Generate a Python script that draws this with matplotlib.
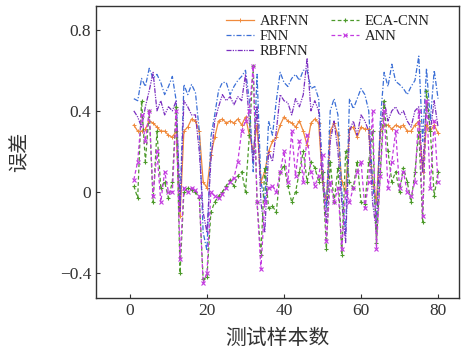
import matplotlib
matplotlib.use("Agg")
import matplotlib.pyplot as plt
import numpy as np

samples = list(range(1, 81))

arfnn = [0.33, 0.30, 0.30, 0.31, 0.35, 0.34, 0.32, 0.30, 0.30, 0.28,
         0.27, 0.30, -0.12, 0.30, 0.32, 0.36, 0.35, 0.30, 0.05, 0.02,
         0.18, 0.27, 0.35, 0.36, 0.34, 0.35, 0.34, 0.36, 0.33, 0.37,
         0.28, 0.20, 0.33, 0.05, 0.10, 0.20, 0.25, 0.27, 0.33, 0.37,
         0.35, 0.34, 0.32, 0.35, 0.30, 0.23, 0.34, 0.36, 0.34, 0.05,
         -0.05, 0.30, 0.34, 0.28, 0.05, 0.00, 0.31, 0.32, 0.27, 0.32,
         0.31, 0.31, 0.05, -0.05, 0.30, 0.33, 0.33, 0.31, 0.33, 0.32,
         0.33, 0.30, 0.30, 0.33, 0.35, 0.10, 0.33, 0.30, 0.33, 0.29]

fnn = [0.46, 0.45, 0.56, 0.52, 0.61, 0.56, 0.58, 0.54, 0.48, 0.52,
       0.57, 0.45, -0.05, 0.53, 0.48, 0.53, 0.49, 0.30, -0.20, -0.29,
       0.27, 0.38, 0.50, 0.54, 0.54, 0.48, 0.52, 0.55, 0.57, 0.60,
       0.45, 0.10, 0.58, 0.05, -0.05, 0.35, 0.28, 0.45, 0.59, 0.54,
       0.52, 0.56, 0.58, 0.55, 0.60, 0.60, 0.51, 0.52, 0.46, 0.10,
       -0.08, 0.40, 0.46, 0.38, 0.00, -0.20, 0.46, 0.41, 0.46, 0.51,
       0.48, 0.40, 0.05, -0.15, 0.35, 0.59, 0.52, 0.63, 0.545, 0.53,
       0.51, 0.48, 0.52, 0.55, 0.67, 0.25, 0.61, 0.35, 0.60, 0.46]

rbfnn = [0.40, 0.37, 0.32, 0.42, 0.50, 0.59, 0.40, 0.45, 0.38, 0.42,
         0.40, 0.45, -0.10, 0.45, 0.42, 0.38, 0.38, 0.20, -0.10, -0.20,
         0.15, 0.35, 0.42, 0.48, 0.45, 0.47, 0.43, 0.47, 0.45, 0.58,
         0.35, 0.15, 0.42, -0.05, -0.20, 0.20, 0.15, 0.30, 0.48, 0.45,
         0.44, 0.38, 0.46, 0.42, 0.48, 0.66, 0.40, 0.45, 0.40, 0.05,
         -0.15, 0.25, 0.35, 0.20, -0.05, -0.25, 0.30, 0.35, 0.28, 0.38,
         0.35, 0.30, -0.05, -0.20, 0.30, 0.45, 0.35, 0.40, 0.42, 0.38,
         0.40, 0.35, 0.32, 0.40, 0.42, 0.10, 0.45, 0.30, 0.45, 0.32]

eca_cnn = [0.03, -0.03, 0.45, 0.15, 0.40, -0.05, 0.30, 0.02, 0.05, -0.03,
           0.05, 0.42, -0.40, 0.00, 0.02, 0.01, 0.00, -0.03, -0.43, -0.42,
           -0.10, -0.05, -0.02, 0.00, 0.03, 0.06, 0.03, 0.08, 0.10, 0.00,
           0.28, 0.62, -0.05, -0.31, 0.12, -0.08, -0.07, -0.10, 0.10, 0.13,
           0.03, -0.05, 0.00, 0.10, 0.20, 0.05, 0.15, 0.12, 0.05, 0.10,
           -0.28, 0.15, -0.05, 0.12, -0.31, 0.20, 0.05, 0.02, 0.15, -0.05,
           -0.06, 0.15, 0.30, -0.25, 0.10, 0.45, 0.20, 0.05, 0.10, 0.00,
           0.12, 0.05, -0.05, 0.10, 0.30, -0.15, 0.50, 0.30, -0.02, 0.10]

ann = [0.06, 0.15, 0.38, 0.25, 0.40, -0.02, 0.20, -0.05, 0.10, 0.00,
       0.00, 0.40, -0.33, 0.02, 0.00, 0.02, 0.01, -0.02, -0.45, -0.40,
       0.00, -0.02, -0.03, -0.01, 0.02, 0.05, 0.07, 0.15, 0.30, 0.35,
       0.40, 0.62, -0.05, -0.38, -0.05, 0.02, 0.03, 0.00, 0.10, 0.20,
       0.05, 0.30, 0.08, 0.25, 0.05, 0.28, 0.10, 0.03, 0.08, 0.18,
       -0.24, 0.05, -0.05, 0.02, -0.28, 0.00, -0.05, 0.02, 0.10, 0.15,
       -0.08, 0.05, 0.40, -0.28, 0.08, 0.40, 0.02, 0.15, 0.30, 0.02,
       0.10, 0.00, -0.02, 0.05, 0.40, -0.12, 0.45, 0.02, 0.35, 0.05]

xticks = [0, 20, 40, 60, 80]
yticks = [-0.4, 0, 0.4, 0.8]
ytick_labels = ["\u22120.4", "0", "0.4", "0.8"]

serif = ["Liberation Serif", "DejaVu Serif"]
cjk = ["Noto Sans CJK SC", "DejaVu Sans"]

fig = plt.figure(figsize=(4.62, 3.63), dpi=100)
ax = fig.add_axes([0.208, 0.179, 0.786, 0.805])

lw = 0.9
ax.plot(samples, arfnn, color="#f08a3c", lw=lw, ls="-", marker="+", ms=3, mew=0.7, label="ARFNN")
ax.plot(samples, fnn, color="#3b6fd6", lw=lw, ls=(0, (4, 1.5, 1, 1.5)), label="FNN")
ax.plot(samples, rbfnn, color="#7a2fc0", lw=lw, ls=(0, (4, 1, 1, 1, 1, 1)), label="RBFNN")
ax.plot(samples, eca_cnn, color="#4c9a2a", lw=lw, ls=(0, (3, 2)), marker="+", ms=3.5, mew=0.8, label="ECA-CNN")
ax.plot(samples, ann, color="#c33ae0", lw=lw, ls=(0, (3, 2)), marker="x", ms=3.5, mew=0.8, label="ANN")

ax.set_xlim(-8.8, 85.5)
ax.set_ylim(-0.523, 0.918)
ax.set_xticks(xticks)
ax.set_xticklabels([str(t) for t in xticks], fontfamily=serif, fontsize=12.5)
ax.set_yticks(yticks)
ax.set_yticklabels(ytick_labels, fontfamily=serif, fontsize=12.5)
ax.tick_params(direction="in", length=3, width=0.8, top=False, right=False, colors="#333333", labelcolor="#333333")
for s in ax.spines.values():
    s.set_linewidth(1.0)
    s.set_color("#333333")

ax.set_xlabel("测试样本数", fontfamily=cjk, fontsize=15, color="#333333", labelpad=6)
ax.set_ylabel("误差", fontfamily=cjk, fontsize=14.5, color="#333333", labelpad=21)

leg = ax.legend(ncol=2, frameon=False, loc="upper left", bbox_to_anchor=(0.33, 1.005),
                prop={"family": serif, "size": 10.5}, handlelength=1.9,
                columnspacing=1.5, labelspacing=0.12, handletextpad=0.4, borderpad=0.2)
for t in leg.get_texts():
    t.set_color("#222222")

fig.savefig("out.png", dpi=100)
